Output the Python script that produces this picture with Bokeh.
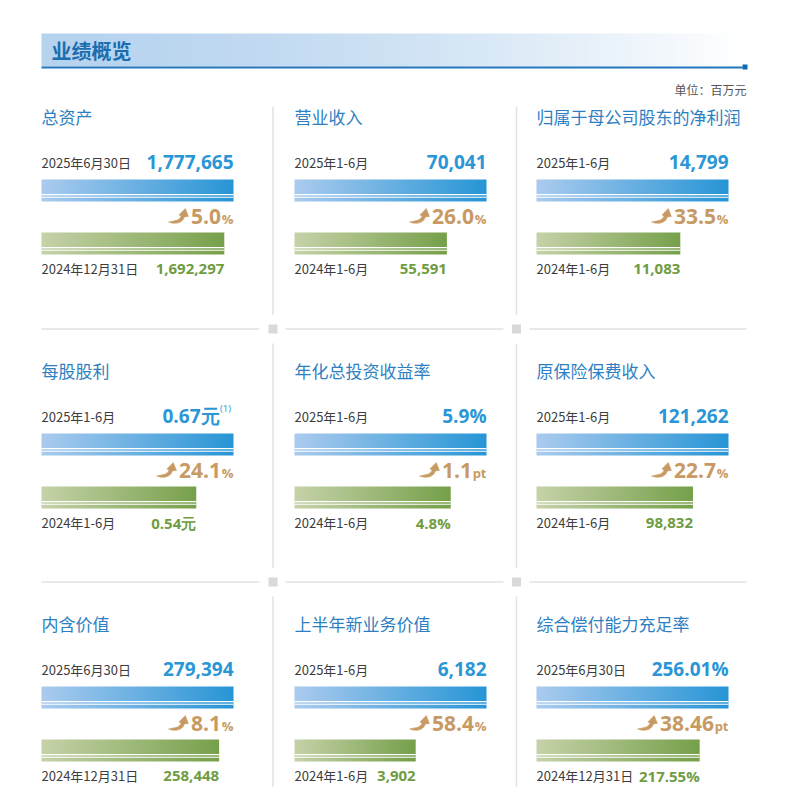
import numpy as np
from bokeh.plotting import figure
from bokeh.models import Range1d
from bokeh.core.properties import value
from bokeh.embed import file_html
from bokeh.resources import INLINE

# ---------------- data ----------------
header_title = "业绩概览"
unit_note = "单位：百万元"
titles = ["总资产", "营业收入", "归属于母公司股东的净利润",
          "每股股利", "年化总投资收益率", "原保险保费收入",
          "内含价值", "上半年新业务价值", "综合偿付能力充足率"]
cur_labels = ["2025年6月30日", "2025年1-6月", "2025年1-6月",
              "2025年1-6月", "2025年1-6月", "2025年1-6月",
              "2025年6月30日", "2025年1-6月", "2025年6月30日"]
cur_values = [1777665, 70041, 14799, 0.67, 5.9, 121262, 279394, 6182, 256.01]
cur_texts = ["1,777,665", "70,041", "14,799", "0.67元", "5.9%", "121,262",
             "279,394", "6,182", "256.01%"]
notes = ["", "", "", "(1)", "", "", "", "", ""]
prev_labels = ["2024年12月31日", "2024年1-6月", "2024年1-6月",
               "2024年1-6月", "2024年1-6月", "2024年1-6月",
               "2024年12月31日", "2024年1-6月", "2024年12月31日"]
prev_values = [1692297, 55591, 11083, 0.54, 4.8, 98832, 258448, 3902, 217.55]
prev_texts = ["1,692,297", "55,591", "11,083", "0.54元", "4.8%", "98,832",
              "258,448", "3,902", "217.55%"]
change_nums = ["5.0", "26.0", "33.5", "24.1", "1.1", "22.7", "8.1", "58.4", "38.46"]
change_units = ["%", "%", "%", "%", "pt", "%", "%", "%", "pt"]

# ---------------- style / layout ----------------
CJK = "Noto Sans CJK SC"
NUM = "Open Sans"
TITLE_C = "#2e7fc2"
DATE_C = "#3d3d3d"
CUR_C = "#2a96d6"
CHG_C = "#c89a63"
PREV_C = "#6f9c42"
SEP_C = "#e2e2e2"
SQ_C = "#d9d9d9"

W, H = 777, 787
col_left = [41, 294, 536]
row_top = [116, 370, 623]
BAR_W = 192
sep_x = [272.5, 516]
sep_y = [328.5, 581.5]

p = figure(width=W, height=H, x_range=Range1d(0, W), y_range=Range1d(H, 0),
           output_backend="svg", toolbar_location=None, min_border=0,
           x_axis_location=None, y_axis_location=None,
           background_fill_color="white", border_fill_color="white",
           outline_line_color=None)
p.grid.visible = False


def hexrgb(h):
    h = h.lstrip("#")
    return np.array([int(h[i:i + 2], 16) for i in (0, 2, 4)], float)


def gradient_bar(x0, x1, y0, y1, c1, c2, power=1.0):
    n = max(2, int(round(x1 - x0)))
    t = ((np.arange(n) + 0.5) / n) ** power
    a, b = hexrgb(c1), hexrgb(c2)
    cols = a[None, :] + (b - a)[None, :] * t[:, None]
    img = np.empty((1, n), dtype=np.uint32)
    view = img.view(dtype=np.uint8).reshape((1, n, 4))
    view[0, :, 0:3] = np.round(cols).astype(np.uint8)
    view[0, :, 3] = 255
    p.image_rgba(image=[img], x=x0, y=y0, dw=x1 - x0, dh=y1 - y0)


def ob_width(s, size):
    w = 0.0
    for ch in s:
        if ch.isdigit():
            w += 0.572
        elif ch in ",.":
            w += 0.285
        elif ch == "%":
            w += 0.885
        elif ch == "p":
            w += 0.631
        elif ch == "t":
            w += 0.408
        elif ord(ch) > 0x2E80:
            w += 1.0
        else:
            w += 0.5
    return w * size


def cjk_width(s, size):
    w = 0.0
    for ch in s:
        if ord(ch) > 0x2E80:
            w += 1.0
        elif ch == "-":
            w += 0.36
        else:
            w += 0.555
    return w * size


def txt(x, y, s, font, size, color, align="left", style="normal", baseline="middle"):
    p.text(x=[x], y=[y], text=[s], text_font=value(font), text_font_size=size,
           text_color=color, text_align=align, text_baseline=baseline,
           text_font_style=style)


# ---------------- header ----------------
gradient_bar(41, 742, 33, 66, "#b6d3ee", "#ffffff", power=1.6)
p.quad(left=[41], right=[742], top=[66], bottom=[68], fill_color="#2376bb", line_color=None)
p.quad(left=[742], right=[747], top=[64], bottom=[69], fill_color="#0c69b3", line_color=None)
txt(51, 49.5, header_title, CJK, "20px", "#1b6db1", style="bold")
txt(746, 88.5, unit_note, CJK, "12px", "#555555", align="right")

# ---------------- separators ----------------
vseg = [(106, 314.5), (343, 567.5), (596, 800)]
for sx in sep_x:
    for (a, b) in vseg:
        p.line(x=[sx, sx], y=[a, b], line_color=SEP_C, line_width=1.5)
hseg_x = [(41, 259), (285, 503), (529, 746)]
for sy in sep_y:
    for (a, b) in hseg_x:
        p.line(x=[a, b], y=[sy, sy], line_color=SEP_C, line_width=1.5)
    for sx in sep_x:
        p.quad(left=[sx - 4.5], right=[sx + 4.5], top=[sy - 4.5], bottom=[sy + 4.5],
               fill_color=SQ_C, line_color=None)


def arrow(ax_right, cy):
    pts = [(0, 1.5), (4, 0.3), (8, 0.2), (11.5, 1.2), (14.5, 3.5), (16.0, 6.6),
           (20, 7.0), (16.8, 15.0), (10.4, 8.6), (12.6, 7.4), (11.4, 5.2),
           (9, 3.6), (5, 2.6)]
    x0 = ax_right - 20
    xs = [x0 + u for u, v in pts]
    ys = [cy + 7 - v for u, v in pts]
    p.patch(x=xs, y=ys, fill_color=CHG_C, line_color=CHG_C, line_width=0.5)


# ---------------- panels ----------------
for i in range(9):
    r, c = divmod(i, 3)
    L = col_left[c]
    T = row_top[r]
    R = L + BAR_W

    txt(L, T, titles[i], CJK, "17px", TITLE_C)

    # current period
    txt(L, T + 46, cur_labels[i], CJK, "13px", DATE_C)
    vr = R
    if notes[i]:
        vr = R - 14
        txt(R - 13.5, T + 38, notes[i], NUM, "9.5px", CUR_C)
    txt(vr, T + 45, cur_texts[i], NUM, "19px", CUR_C, align="right", style="bold")

    # current bar (full length = current value)
    x_cur = L + BAR_W * cur_values[i] / cur_values[i]
    gradient_bar(L, x_cur, T + 63, T + 85, "#abcbee", "#2795d5")
    p.quad(left=[L], right=[x_cur], top=[T + 77.6], bottom=[T + 78.7], fill_color="white", line_color=None)
    p.quad(left=[L], right=[x_cur], top=[T + 80.2], bottom=[T + 81.3], fill_color="white", line_color=None)

    # change
    cy = T + 100
    txt(R, cy + 2.5, change_units[i], NUM, "13px", CHG_C, align="right", style="bold")
    nr = R - ob_width(change_units[i], 13) - 1
    txt(nr, cy, change_nums[i], NUM, "21px", CHG_C, align="right", style="bold")
    arrow(nr - ob_width(change_nums[i], 21) - 2.5, cy)

    # previous bar
    x_prev = L + BAR_W * prev_values[i] / cur_values[i]
    gradient_bar(L, x_prev, T + 116, T + 138, "#c6d2a9", "#76a04a")
    p.quad(left=[L], right=[x_prev], top=[T + 130.6], bottom=[T + 131.7], fill_color="white", line_color=None)
    p.quad(left=[L], right=[x_prev], top=[T + 133.2], bottom=[T + 134.3], fill_color="white", line_color=None)

    txt(L, T + 152, prev_labels[i], CJK, "13px", DATE_C)
    pr = max(x_prev, L + cjk_width(prev_labels[i], 13) + 3 + ob_width(prev_texts[i], 15))
    txt(pr, T + 152, prev_texts[i], NUM, "15px", PREV_C, align="right", style="bold")

open("out.html", "w").write(file_html(p, INLINE))
